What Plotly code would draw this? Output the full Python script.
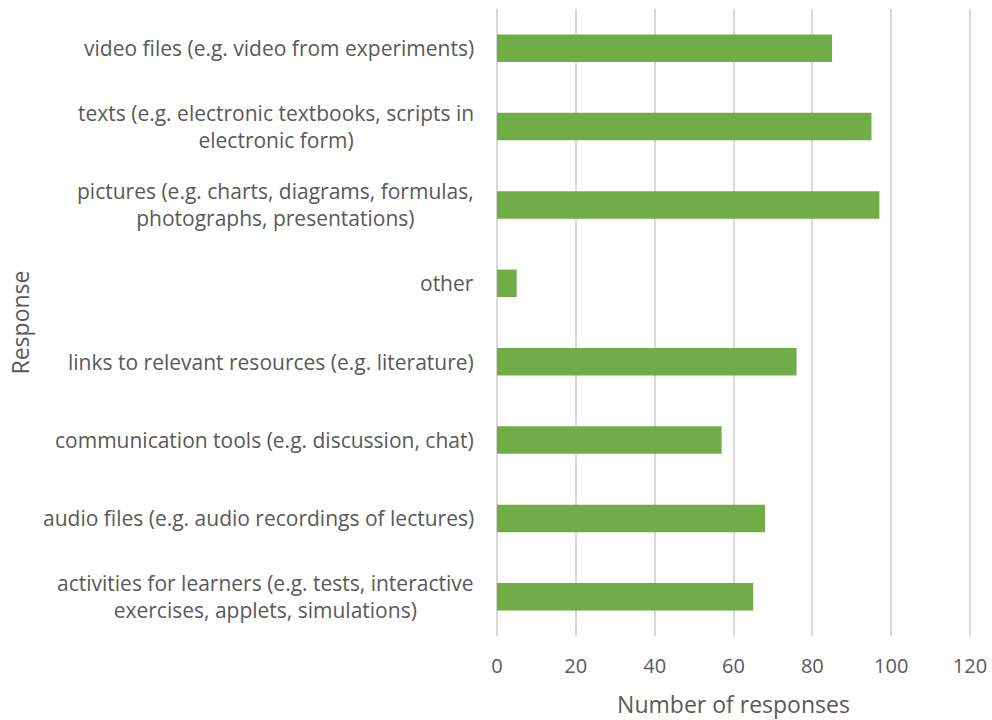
import plotly.graph_objects as go

categories = [
    "activities for learners (e.g. tests, interactive<br>exercises, applets, simulations)",
    "audio files (e.g. audio recordings of lectures)",
    "communication tools (e.g. discussion, chat)",
    "links to relevant resources (e.g. literature)",
    "other",
    "pictures (e.g. charts, diagrams, formulas,<br>photographs, presentations)",
    "texts (e.g. electronic textbooks, scripts in<br>electronic form)",
    "video files (e.g. video from experiments)",
]
values = [65, 68, 57, 76, 5, 97, 95, 85]
x_ticks = [0, 20, 40, 60, 80, 100, 120]

FONT = "Open Sans"
GREY = "#595959"

fig = go.Figure(
    go.Bar(
        x=values,
        y=categories,
        orientation="h",
        marker=dict(color="#70ad47", line=dict(width=0)),
        width=0.35,
    )
)

annotations = []
for c in categories:
    annotations.append(dict(
        x=0, xref="paper", xshift=-19, y=c, yref="y",
        text=c, showarrow=False, xanchor="right", yanchor="middle",
        align="center", font=dict(family=FONT, size=21, color=GREY),
    ))
annotations.append(dict(
    x=0, xref="paper", xshift=-476, y=0.5, yref="paper",
    text="Response", textangle=-90, showarrow=False,
    xanchor="center", yanchor="middle",
    font=dict(family=FONT, size=23, color=GREY),
))

fig.update_layout(
    width=992, height=720,
    margin=dict(l=495, r=20, t=9, b=84),
    paper_bgcolor="white", plot_bgcolor="white",
    showlegend=False,
    annotations=annotations,
    xaxis=dict(
        range=[-0.5, 120.5], tickvals=x_ticks, showgrid=True,
        gridcolor="#d9d9d9", gridwidth=1.5, zeroline=False,
        showline=False, ticks="", automargin=False,
        ticklabelstandoff=16,
        tickfont=dict(family=FONT, size=20, color=GREY),
        title=dict(text="Number of responses", standoff=19,
                   font=dict(family=FONT, size=23, color=GREY)),
    ),
    yaxis=dict(
        showticklabels=False, showgrid=False, zeroline=False,
        showline=False, ticks="", range=[-0.5, 7.5],
    ),
)

fig.write_html(
    "out.html",
    config={"displayModeBar": False},
    post_script="document.body.style.margin='0';document.body.style.overflow='hidden';",
)
